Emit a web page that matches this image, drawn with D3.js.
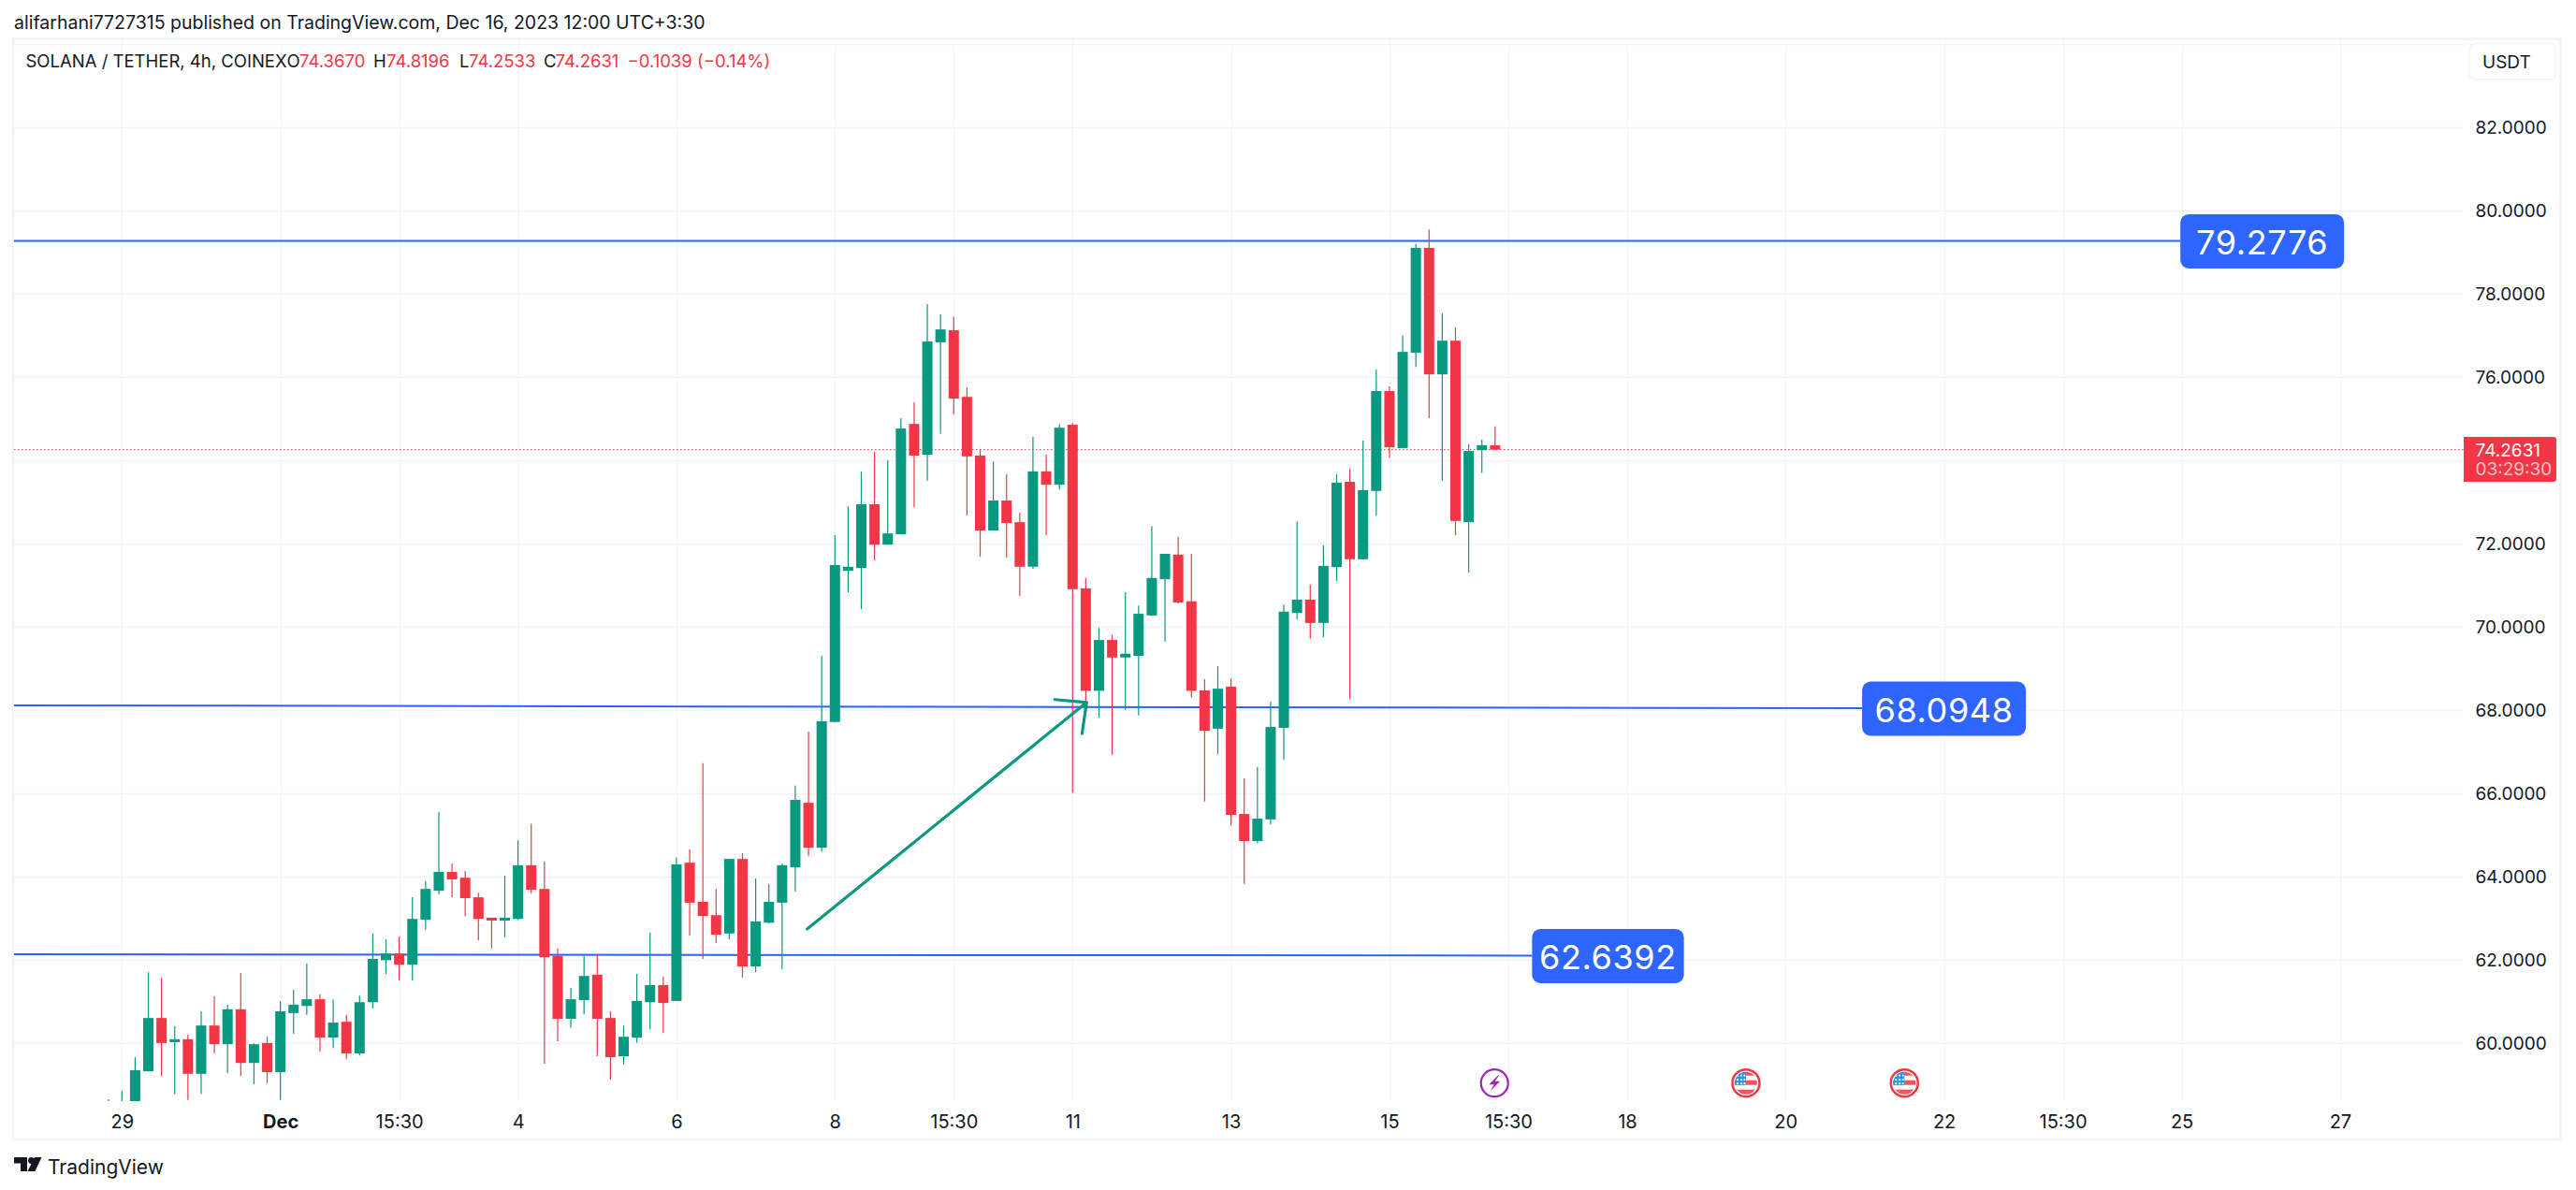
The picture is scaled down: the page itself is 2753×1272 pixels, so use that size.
<!DOCTYPE html>
<html><head><meta charset="utf-8">
<script src="https://cdn.jsdelivr.net/npm/d3@7/dist/d3.min.js"></script>
<style>
html,body{margin:0;padding:0;background:#fff;overflow:hidden}
svg{display:block}
text{font-family:Inter,"Noto Sans",sans-serif;fill:#131722}
</style></head><body>
<script>
// ---- Data ----
const firstBar = -1;
const opens = [58.2,58.3,58.4,59.33,60.61,60.03,60.10,59.27,60.43,59.98,60.82,59.53,60.01,59.31,60.73,60.9,61.06,60.14,60.52,59.76,60.99,62.0,62.16,61.89,62.97,63.67,64.12,63.98,63.51,63.02,62.95,62.99,64.28,63.71,62.1,60.59,61.04,61.65,60.61,59.69,60.14,60.99,61.4,61.02,64.34,63.4,63.08,62.64,64.43,61.85,62.9,63.38,64.23,65.78,64.7,67.72,71.35,71.42,72.95,71.98,72.23,74.88,74.14,76.84,77.13,75.53,74.12,72.32,73.04,72.52,71.45,73.74,73.42,74.86,70.93,68.47,69.69,69.27,69.31,70.28,71.15,71.74,70.62,68.48,67.56,68.57,65.51,64.86,65.38,67.58,70.34,70.66,70.1,71.44,73.49,71.63,73.27,75.67,74.3,76.59,79.11,76.07,76.88,72.52,74.25,74.367];
const highs = [58.66,58.86,59.67,61.71,61.58,60.41,60.21,60.77,61.13,60.93,61.69,60.0,60.16,61.02,61.29,61.92,61.18,61.06,60.68,61.15,62.64,62.5,62.57,63.51,63.9,65.56,64.32,64.14,63.62,63.02,64.03,64.88,65.27,64.37,62.28,61.33,62.1,62.14,60.77,60.43,61.67,62.66,61.6,64.46,64.66,66.73,63.71,64.43,64.57,63.96,63.83,64.32,66.19,67.49,69.31,72.21,72.9,73.74,74.21,74.01,75.02,75.4,77.76,77.51,77.45,75.76,74.28,73.98,73.67,72.75,74.57,74.14,74.88,74.9,71.18,69.98,69.81,70.84,70.52,72.43,71.76,72.17,71.76,68.75,69.06,68.77,66.36,66.64,68.21,70.54,72.54,71.02,71.96,73.67,73.8,74.48,76.19,75.78,77.0,79.2,79.55,77.54,77.2,74.39,74.5,74.8196];
const lows = [58.1,58.1,58.3,59.33,59.22,58.78,58.64,58.78,59.76,59.29,59.22,59.02,59.04,58.64,60.23,60.68,59.8,59.89,59.63,59.71,60.84,61.67,61.51,61.51,62.73,63.58,63.51,63.06,62.48,62.28,62.55,62.97,63.6,59.51,60.05,60.37,60.7,59.69,59.13,59.49,60.01,60.34,60.25,61.02,62.59,62.03,62.41,62.5,61.58,61.71,62.88,61.78,63.65,64.5,64.6,67.72,70.84,70.43,71.6,71.98,72.23,72.88,73.51,74.64,75.11,72.68,71.69,72.32,71.67,70.75,71.4,72.21,73.31,66.02,68.07,67.82,66.93,68.01,67.88,70.28,69.65,70.57,68.31,65.81,66.95,65.23,63.83,64.81,65.26,66.81,70.18,69.72,69.76,71.11,68.27,71.63,72.68,74.07,74.3,76.25,75.02,73.51,72.21,71.31,73.71,74.2533];
const closes = [58.4,58.5,59.355,60.61,60.01,60.10,59.27,60.43,59.98,60.82,59.53,59.98,59.31,60.77,60.93,61.06,60.14,60.5,59.76,60.99,62.03,62.16,61.89,62.99,63.71,64.12,63.94,63.49,62.99,62.95,63.02,64.28,63.69,62.07,60.59,61.06,61.62,60.59,59.67,60.16,61.02,61.4,60.97,64.3,63.38,63.06,62.61,64.43,61.85,62.93,63.4,64.28,65.85,64.7,67.74,71.49,71.45,72.95,71.98,72.25,74.77,74.12,76.86,77.15,75.49,74.1,72.32,73.04,72.5,71.45,73.74,73.42,74.79,70.91,68.47,69.69,69.27,69.36,70.32,71.18,71.76,70.59,68.47,67.51,68.52,65.49,64.86,65.4,67.6,70.37,70.66,70.1,71.47,73.47,71.63,73.29,75.67,74.32,76.61,79.11,76.07,76.88,72.55,74.23,74.37,74.2631];

const priceTicks = [60,62,64,66,68,70,72,74,76,78,80,82,84];
const priceTicksLabelled = [60,62,64,66,68,70,72,74,76,78,80,82];
const timeTicks = [0,12,21,30,42,54,63,72,84,96,105,114,126,138,147,156,168];
const timeLabels = ["29","Dec","15:30","4","6","8","15:30","11","13","15","15:30","18","20","22","15:30","25","27"];

// Drawn levels: [bar start, price start, bar end, price end, label, label bar start, label bar end]
const levelBarStart = [-8.3,-8.3,-8.3];
const levelBarEnd = [155.9,131.8,106.8];
const levelPriceStart = [79.2776,68.12,62.14];
const levelPriceEnd = [79.2776,68.05,62.11];
const levelLabels = ["79.2776","68.0948","62.6392"];
const levelLabelBarEnd = [168.3,144.2,118.3];

const arrowBars = [51.9,73.06];
const arrowPrices = [62.75,68.19];
const arrowHeadBars = [70.65,73.06,72.72];
const arrowHeadPrices = [68.26,68.19,67.44];

const lastPrice = 74.2631;
const eventBars = [104,123,135];
const eventKinds = ["bolt","flag","flag"];

// ---- Layout ----
const W=2753,H=1272;
const pane={l:15,t:42,r:2633,b:1177};
const green="#089981",red="#F23645",blue="#2962FF",grid="#F0F3FA",ink="#131722";
const x=d3.scaleLinear().domain([0,168]).range([130.3,2500.9]);
const y=d3.scaleLinear().domain([60,82]).range([1115.3,136.3]);

const svg=d3.select("body").append("svg").attr("width",W).attr("height",H);
svg.append("rect").attr("width",W).attr("height",H).attr("fill","#fff");

svg.append("clipPath").attr("id","pane").append("rect")
  .attr("x",pane.l).attr("y",pane.t).attr("width",pane.r-pane.l).attr("height",pane.b-pane.t);

// grid
const g=svg.append("g");
g.selectAll(".h").data(priceTicks).join("line")
  .attr("x1",pane.l).attr("x2",pane.r).attr("y1",d=>Math.round(y(d))+.5).attr("y2",d=>Math.round(y(d))+.5)
  .attr("stroke",grid).attr("stroke-width",1.5);
g.selectAll(".v").data(timeTicks).join("line")
  .attr("y1",pane.t).attr("y2",pane.b).attr("x1",d=>Math.round(x(d))+.5).attr("x2",d=>Math.round(x(d))+.5)
  .attr("stroke",grid).attr("stroke-width",1.2);

// frame
svg.append("rect").attr("x",14).attr("y",41.5).attr("width",2722.5).attr("height",1176.5)
  .attr("fill","none").attr("stroke",grid).attr("stroke-width",2.5);

const plot=svg.append("g").attr("clip-path","url(#pane)");

// last price line
plot.append("line").attr("x1",pane.l).attr("x2",pane.r).attr("y1",y(lastPrice)).attr("y2",y(lastPrice))
  .attr("stroke",red).attr("stroke-width",1).attr("stroke-dasharray","1.5 2.5");

// levels under candles? (lines sit behind the candles in the reference)
levelLabels.forEach((t,i)=>{
  plot.append("line")
    .attr("x1",x(levelBarStart[i])).attr("y1",y(levelPriceStart[i]))
    .attr("x2",x(levelBarEnd[i])).attr("y2",y(levelPriceEnd[i]))
    .attr("stroke",blue).attr("stroke-width",2);
});

// candles
const bars=d3.range(opens.length).map(i=>({bar:i+firstBar,o:opens[i],h:highs[i],l:lows[i],c:closes[i]}));
const col=d=>d.c>=d.o?green:red;
plot.selectAll(".wick").data(bars).join("line")
  .attr("x1",d=>x(d.bar)).attr("x2",d=>x(d.bar)).attr("y1",d=>y(d.h)).attr("y2",d=>y(d.l))
  .attr("stroke",col).attr("stroke-width",1.2);
plot.selectAll(".body").data(bars).join("rect")
  .attr("x",d=>x(d.bar)-5.5).attr("width",11)
  .attr("y",d=>y(Math.max(d.o,d.c))).attr("height",d=>Math.max(1,Math.abs(y(d.o)-y(d.c))))
  .attr("fill",col);

// arrow
const line=d3.line();
plot.append("path").attr("d",line(arrowBars.map((b,i)=>[x(b),y(arrowPrices[i])])))
  .attr("fill","none").attr("stroke",green).attr("stroke-width",3.2).attr("stroke-linecap","round");
plot.append("path").attr("d",line(arrowHeadBars.map((b,i)=>[x(b),y(arrowHeadPrices[i])])))
  .attr("fill","none").attr("stroke",green).attr("stroke-width",3.2).attr("stroke-linecap","round").attr("stroke-linejoin","round");

// level labels
levelLabels.forEach((t,i)=>{
  const xr=x(levelLabelBarEnd[i]), xl=x(levelBarEnd[i]), yc=y(levelPriceEnd[i])+0.5;
  svg.append("rect").attr("x",xl).attr("y",yc-29).attr("width",xr-xl).attr("height",58)
    .attr("rx",9).attr("fill","#2F65FF");
  svg.append("text").text(t).attr("x",(xl+xr)/2).attr("y",yc+1).attr("text-anchor","middle")
    .attr("dominant-baseline","central").style("fill","#fff").style("font-size","36px").style("letter-spacing","0.6px");
});

// axes
const yAxis=d3.axisRight(y).tickValues(priceTicksLabelled).tickFormat(d3.format(".4f")).tickSize(0).tickPadding(12.5);
const ya=svg.append("g").attr("transform",`translate(${pane.r},0)`).call(yAxis);
ya.select(".domain").remove();
ya.selectAll("text").style("font-size","19px").style("font-family","Inter").style("fill",ink).attr("dy","0.35em");

const xAxis=d3.axisBottom(x).tickValues(timeTicks).tickFormat((d,i)=>timeLabels[i]).tickSize(0).tickPadding(0);
const xa=svg.append("g").attr("transform",`translate(0,1199)`).call(xAxis);
xa.select(".domain").remove();
xa.selectAll("text").attr("y",0).attr("dy","0.36em").style("font-size","20px").style("font-family","Inter").style("fill",ink)
  .style("font-weight",(d,i)=>timeLabels[i]==="Dec"?700:400);

// last price tag
svg.append("path").attr("d","M2633 467H2729a3 3 0 0 1 3 3V512a3 3 0 0 1 -3 3H2633Z").attr("fill",red);
svg.append("text").text(d3.format(".4f")(lastPrice)).attr("x",2645.5).attr("y",481).attr("dominant-baseline","central")
  .style("font-size","19px").style("fill","#fff");
svg.append("text").text("03:29:30").attr("x",2645.5).attr("y",501.5).attr("dominant-baseline","central")
  .style("font-size","19px").style("fill","rgba(255,255,255,.7)");

// USDT box
svg.append("rect").attr("x",2639).attr("y",46.5).attr("width",92).attr("height",38.5).attr("rx",6)
  .attr("fill","#fff").attr("stroke",grid).attr("stroke-width",1.5);
svg.append("text").text("USDT").attr("x",2653).attr("y",66).attr("dominant-baseline","central").style("font-size","19px");

// header
svg.append("text").text("alifarhani7727315 published on TradingView.com, Dec 16, 2023 12:00 UTC+3:30")
  .attr("x",15).attr("y",24).attr("dominant-baseline","central").style("font-size","19.5px");
const legend=[["SOLANA / TETHER, 4h, COINEX",27.5,ink],["O",306.5,ink],["74.3670",320,red],["H",399,ink],["74.8196",413,red],
  ["L",491,ink],["74.2533",501,red],["C",581,ink],["74.2631",593.6,red],["−0.1039 (−0.14%)",670.5,red]];
legend.forEach(([t,px,c])=>svg.append("text").text(t).attr("x",px).attr("y",65).attr("dominant-baseline","central")
  .style("font-size","18.5px").style("fill",c));

// events
const ey=1157.7;
eventBars.forEach((b,i)=>{
  const cx=x(b)+(eventKinds[i]==="bolt"?-0.6:0);
  const e=svg.append("g").attr("transform",`translate(${cx},${ey})`);
  if(eventKinds[i]==="bolt"){
    e.append("circle").attr("r",14.5).attr("fill","#fff").attr("stroke","#9C27B0").attr("stroke-width",2.2);
    e.append("path").attr("d","M4-8.5L-6 1.5H-.5L-4.5 8.5L6-2H.5L5-8.5Z").attr("fill","#9C27B0");
  } else {
    const id="fc"+i;
    e.append("clipPath").attr("id",id).append("circle").attr("r",12);
    e.append("circle").attr("r",14.5).attr("fill","#fff").attr("stroke",red).attr("stroke-width",2.5);
    const f=e.append("g").attr("clip-path",`url(#${id})`);
    f.append("rect").attr("x",-13).attr("y",-13).attr("width",26).attr("height",5).attr("fill","#F7525F");
    f.append("rect").attr("x",-13).attr("y",-3).attr("width",26).attr("height",5).attr("fill","#F7525F");
    f.append("rect").attr("x",-13).attr("y",7).attr("width",26).attr("height",6).attr("fill","#F7525F");
    f.append("rect").attr("x",-13).attr("y",-13).attr("width",13).attr("height",15).attr("fill","#2196F3");
    [[-9,-8],[-5,-8],[-1.5,-8],[-9,-3.5],[-5,-3.5],[-1.5,-3.5],[-9,.5],[-5,.5],[-1.5,.5]].forEach(p=>
      f.append("circle").attr("cx",p[0]).attr("cy",p[1]).attr("r",1.1).attr("fill","#fff"));
  }
});

// footer logo
svg.append("path").attr("d","M15 1237H29V1252H22V1243.5H15Z").attr("fill",ink);
svg.append("circle").attr("cx",33.5).attr("cy",1240.5).attr("r",3.4).attr("fill",ink);
svg.append("path").attr("d","M37 1237H44.5L37.5 1252H29.5Z").attr("fill",ink);
svg.append("text").text("TradingView").attr("x",51).attr("y",1247).attr("dominant-baseline","central")
  .style("font-size","21px");
</script>
</body></html>
